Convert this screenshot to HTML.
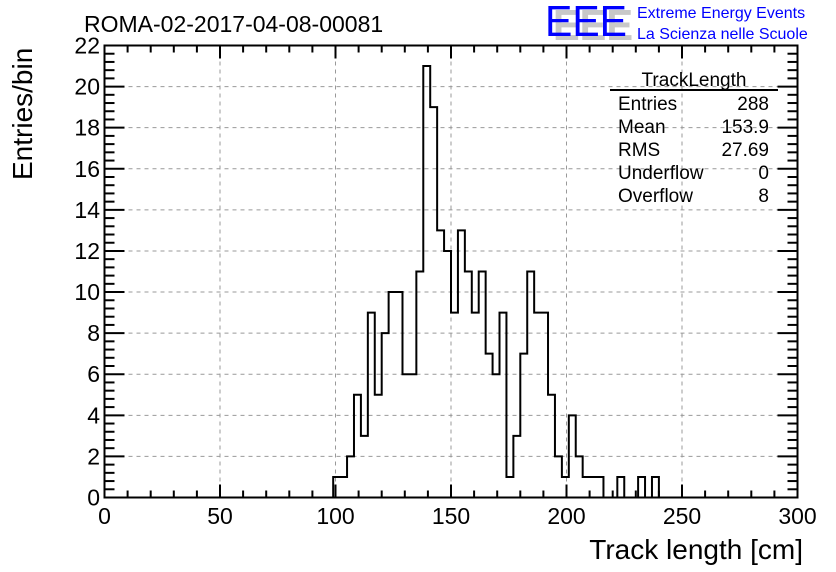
<!DOCTYPE html>
<html><head><meta charset="utf-8"><style>
body{margin:0;background:#fff;}
svg{display:block;font-family:"Liberation Sans",Arial,sans-serif;}
</style></head><body>
<svg id="chart" width="836" height="572" viewBox="0 0 836 572">
<rect width="836" height="572" fill="#fff"/>
<g id="grid"></g>
<g id="ticks"></g>
<path id="hist" fill="none" stroke="#000" stroke-width="2"/>
<rect x="104.5" y="45.5" width="693" height="452" fill="none" stroke="#000" stroke-width="2"/>
<g id="labels" font-size="23"></g>
<text x="84" y="32" font-size="23">ROMA-02-2017-04-08-00081</text>
<text x="803" y="559" font-size="28" text-anchor="end">Track length [cm]</text>
<text transform="translate(32,180) rotate(-90)" font-size="28">Entries/bin</text>
<g>
<text x="553" y="40" font-size="44" fill="#c8c8c8" font-weight="bold" textLength="80" lengthAdjust="spacingAndGlyphs">EEE</text>
<text x="545" y="36" font-size="44" fill="#0000ff" textLength="82" lengthAdjust="spacingAndGlyphs">EEE</text>
<text x="637" y="18" font-size="16" fill="#0000ff">Extreme Energy Events</text>
<text x="637" y="39" font-size="16" fill="#0000ff">La Scienza nelle Scuole</text>
</g>
<g font-size="19">
<text x="694" y="86" text-anchor="middle">TrackLength</text>
<line x1="610" y1="90" x2="778" y2="90" stroke="#000" stroke-width="2"/>
<text x="618" y="110">Entries</text><text x="769" y="110" text-anchor="end">288</text>
<text x="618" y="133">Mean</text><text x="769" y="133" text-anchor="end">153.9</text>
<text x="618" y="156">RMS</text><text x="769" y="156" text-anchor="end">27.69</text>
<text x="618" y="179">Underflow</text><text x="769" y="179" text-anchor="end">0</text>
<text x="618" y="202">Overflow</text><text x="769" y="202" text-anchor="end">8</text>
</g>
</svg>
<script>
const binStart = 99;
const binWidth = 3;
const counts = [1,1,2,5,3,9,5,8,10,10,6,6,11,21,19,13,12,9,13,11,9,11,7,6,9,1,3,7,11,9,9,5,2,1,4,2,1,1,1,0,0,1,0,0,1,0,1];
const xTicks = [0,50,100,150,200,250,300];
const yTicks = [0,2,4,6,8,10,12,14,16,18,20,22];
const X0=104.5,X1=797.5,Y0=497.5,Y1=45.5;
const xs = v => X0 + (v-0)/(300-0)*(X1-X0);
const ys = v => Y0 - v/22*(Y0-Y1);
const NS="http://www.w3.org/2000/svg";
const grid=document.getElementById('grid'), ticks=document.getElementById('ticks'), labels=document.getElementById('labels');
function line(parent,x1,y1,x2,y2,stroke,w,dash){const l=document.createElementNS(NS,'line');
l.setAttribute('x1',x1);l.setAttribute('y1',y1);l.setAttribute('x2',x2);l.setAttribute('y2',y2);
l.setAttribute('stroke',stroke);l.setAttribute('stroke-width',w);if(dash)l.setAttribute('stroke-dasharray',dash);parent.appendChild(l);return l;}
xTicks.forEach(t=>{const x=xs(t);
 if(t>0&&t<300){const g=line(grid,x,Y1,x,Y0,'#999',1,'4,4');
 
 }
 const tx=document.createElementNS(NS,'text');tx.setAttribute('x',x);tx.setAttribute('y',524);tx.setAttribute('text-anchor','middle');tx.textContent=t;
 
 
 labels.appendChild(tx);});
yTicks.forEach(t=>{const y=ys(t);
 if(t>0&&t<22){const g=line(grid,X0,y,X1,y,'#999',1,'4,4');
 
 }
 const tx=document.createElementNS(NS,'text');tx.setAttribute('x',100);tx.setAttribute('y',y+8);tx.setAttribute('text-anchor','end');tx.textContent=t;
 
 
 labels.appendChild(tx);});
for(let v=0;v<=300;v+=10){const x=xs(v),L=(v%50===0)?13:7;
 line(ticks,x,Y0,x,Y0-L,'#000',2);line(ticks,x,Y1,x,Y1+L,'#000',2);}
for(let i=0;i<=55;i++){const v=i*0.4,y=ys(v),L=(i%5===0)?20:10;
 line(ticks,X0,y,X0+L,y,'#000',2);line(ticks,X1,y,X1-L,y,'#000',2);}
let d='M'+xs(0)+','+ys(0)+' L'+xs(binStart)+','+ys(0);
counts.forEach((c,i)=>{const a=binStart+i*binWidth,b=a+binWidth;
 d+=' L'+xs(a)+','+ys(c)+' L'+xs(b)+','+ys(c);});
d+=' L'+xs(binStart+counts.length*binWidth)+','+ys(0)+' L'+xs(300)+','+ys(0);
document.getElementById('hist').setAttribute('d',d);
</script>
</body></html>
